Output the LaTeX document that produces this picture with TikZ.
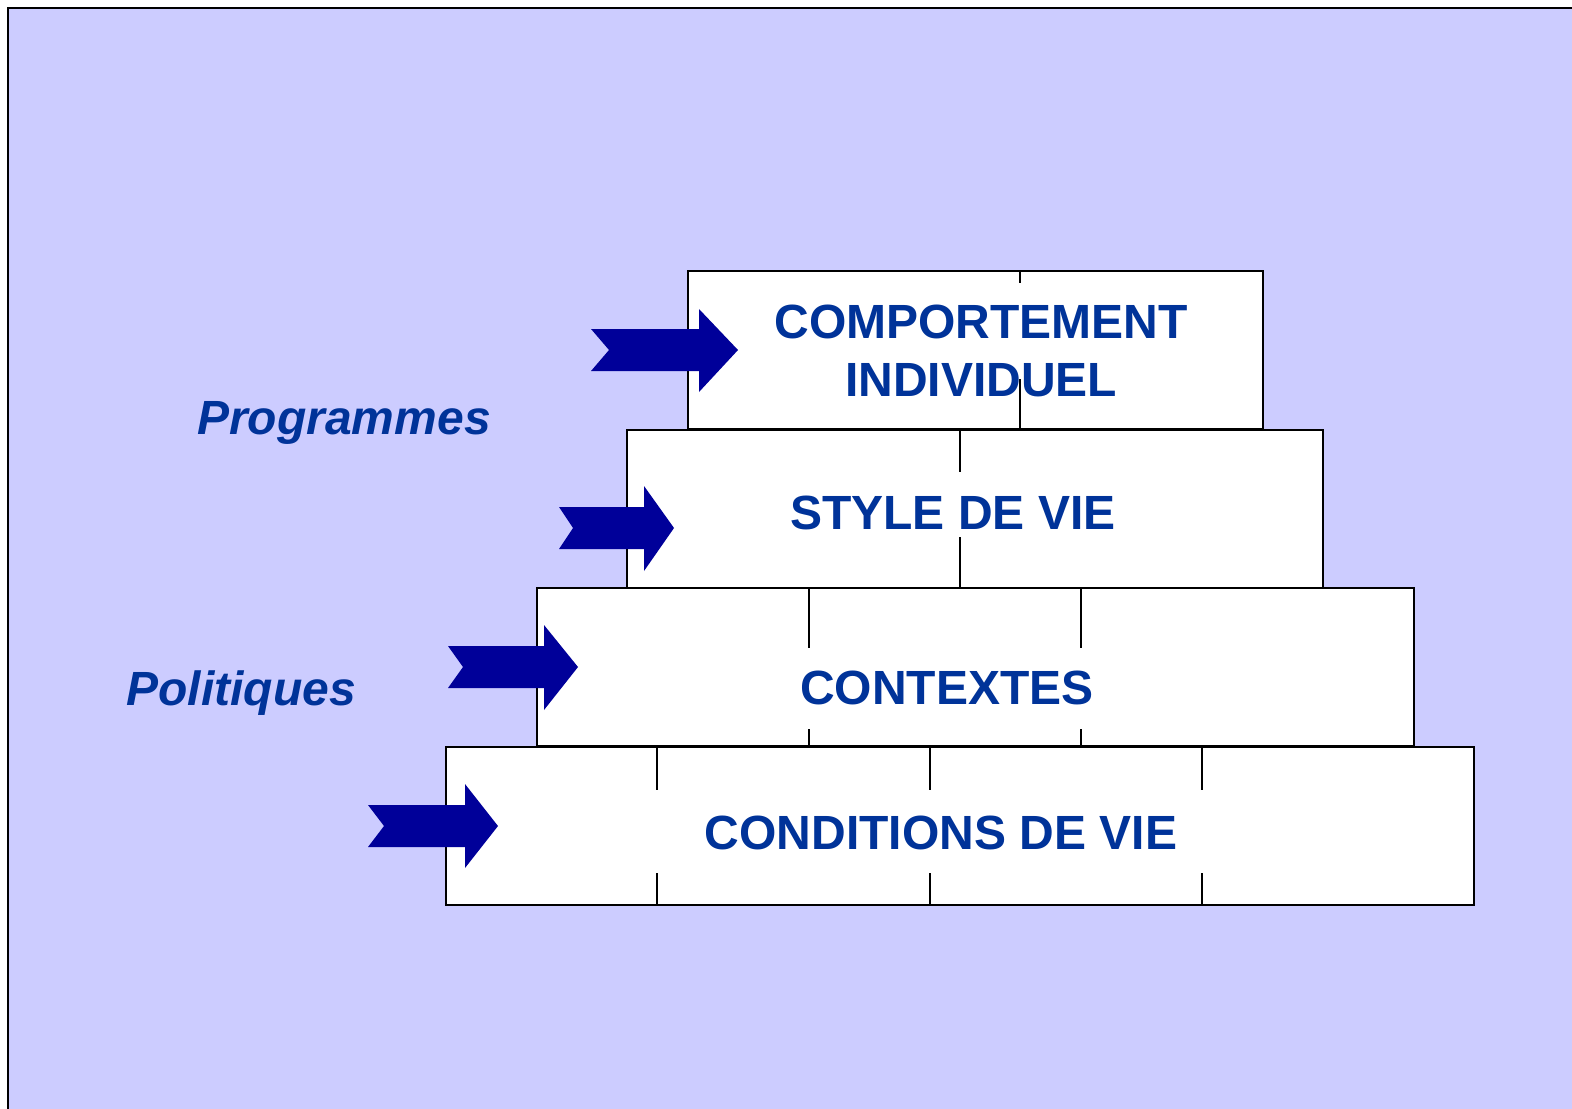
\documentclass[tikz,border=0pt]{standalone}
\usepackage{fontspec}
\setmainfont{Liberation Sans}
\usepackage{tikz}

\definecolor{fondlavande}{RGB}{204,204,255}
\definecolor{bleufleche}{RGB}{0,0,153}
\definecolor{bleutexte}{RGB}{0,51,153}

\begin{document}
\begin{tikzpicture}[x=0.5pt,y=0.5pt,yscale=-1,
  brique/.style={draw=black,fill=white,line width=1pt},
  joint/.style={draw=black,line width=0.8pt},
  flechebleue/.style={fill=bleufleche},
  etage/.style={inner sep=0pt,text=bleutexte,font=\fontsize{24}{29}\selectfont\bfseries,align=center},
  action/.style={inner sep=0pt,text=bleutexte,font=\fontsize{24}{29}\selectfont\bfseries\itshape,anchor=base}]
\useasboundingbox (0,0) rectangle (1572,1108);
\clip (0,0) rectangle (1572,1108);

%Shape: Rectangle [fond]
\draw [fill=fondlavande, line width=1pt] (7.5,8) rectangle (1600,1140) ;

%Shape: Rectangle [comportement]
\draw [brique] (688,271) rectangle (1263,429) ;
\draw [joint] (1020,271) -- (1020,283) ;
\draw [joint] (1020,379) -- (1020,429) ;
%Shape: Rectangle [style de vie]
\draw [brique] (627,430) rectangle (1323,588) ;
\draw [joint] (960,430) -- (960,472) ;
\draw [joint] (960,537) -- (960,588) ;
%Shape: Rectangle [contextes]
\draw [brique] (537,588) rectangle (1414,746) ;
\draw [joint] (809,588) -- (809,648) ;
\draw [joint] (809,729) -- (809,746) ;
\draw [joint] (1081,588) -- (1081,648) ;
\draw [joint] (1081,729) -- (1081,746) ;
%Shape: Rectangle [conditions de vie]
\draw [brique] (446,747) rectangle (1474,905) ;
\draw [joint] (657,747) -- (657,790) ;
\draw [joint] (657,873) -- (657,905) ;
\draw [joint] (930,747) -- (930,790) ;
\draw [joint] (930,873) -- (930,905) ;
\draw [joint] (1202,747) -- (1202,790) ;
\draw [joint] (1202,873) -- (1202,905) ;

%Shape: Right Arrow [comportement]
\fill [flechebleue] (591,329) -- (609,350) -- (591,371) -- (699,371) -- (699,392) -- (738,350) -- (699,309) -- (699,329) -- cycle ;
%Shape: Right Arrow [style de vie]
\fill [flechebleue] (559,507) -- (573,528) -- (559,549) -- (644,549) -- (644,571) -- (674,528) -- (644,486) -- (644,507) -- cycle ;
%Shape: Right Arrow [contextes]
\fill [flechebleue] (448,646) -- (463,667) -- (448,688) -- (544,688) -- (544,710) -- (578,667) -- (544,625) -- (544,646) -- cycle ;
%Shape: Right Arrow [conditions de vie]
\fill [flechebleue] (368,805) -- (384,826) -- (368,847) -- (465,847) -- (465,868) -- (498,826) -- (465,784) -- (465,805) -- cycle ;

% Text Node
\node [etage] (comportement) at (981,351) {COMPORTEMENT\\INDIVIDUEL};
% Text Node
\node [etage] (stylevie) at (953,513) {STYLE DE VIE};
% Text Node
\node [etage] (contextes) at (947,688) {CONTEXTES};
% Text Node
\node [etage] (conditions) at (941,833) {CONDITIONS DE VIE};
% Text Node
\node [action] (programmes) at (344,434) {Programmes};
% Text Node
\node [action] (politiques) at (241,705) {Politiques};

\end{tikzpicture}
\end{document}
